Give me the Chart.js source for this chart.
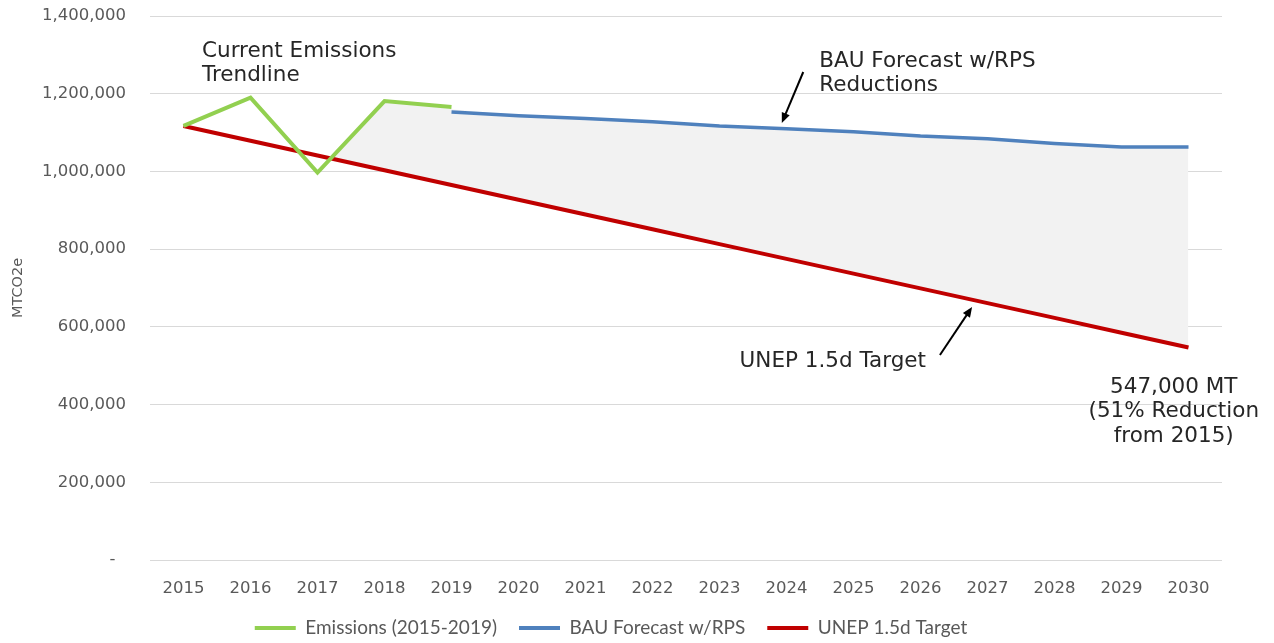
<!DOCTYPE html>
<html lang="en">
<head>
    <meta charset="UTF-8">
    <title>Emissions vs UNEP 1.5d Target</title>
    <script src="https://cdn.jsdelivr.net/npm/chart.js"></script>
    <style>
        body { margin: 0; background: #fff; }
        canvas { display: block; }
    </style>
</head>
<body>
    <canvas id="emissionsChart" width="1274" height="643"></canvas>
    <script>
        const years = ['2015', '2016', '2017', '2018', '2019', '2020', '2021', '2022',
                       '2023', '2024', '2025', '2026', '2027', '2028', '2029', '2030'];
        const emissions = [1117000, 1190000, 997000, 1181000, 1166000,
                           null, null, null, null, null, null, null, null, null, null, null];
        const bauForecast = [null, null, null, null, 1153000, 1143000, 1136000, 1128000,
                             1117000, 1110000, 1102000, 1091000, 1084000, 1072000, 1063000, 1063000];
        const unepTarget = [1117000, 1079000, 1041000, 1003000, 965000, 927000, 889000, 851000,
                            813000, 775000, 737000, 699000, 661000, 623000, 585000, 547000];
        // top edge of the grey gap area (emissions, then BAU)
        const gapTop = [null, null, 997000, 1181000, 1160000, 1143000, 1136000, 1128000,
                        1117000, 1110000, 1102000, 1091000, 1084000, 1072000, 1063000, 1063000];

        // callouts, placed in data units (x = year index, y = MTCO2e)
        const notes = [
            { text: ['Current Emissions', 'Trendline'], at: [0.276, 1294500], align: 'left' },
            { text: ['BAU Forecast w/RPS', 'Reductions'], at: [9.49, 1268800], align: 'left' },
            { text: ['UNEP 1.5d Target'], at: [8.30, 496700], align: 'left' },
            { text: ['547,000 MT', '(51% Reduction', 'from 2015)'], at: [14.78, 429800], align: 'center' }
        ];
        const arrows = [
            { from: [9.25, 1255900], to: [8.93, 1124600] },
            { from: [11.29, 527600], to: [11.77, 651100] }
        ];

        const notesPlugin = {
            id: 'notes',
            afterDatasetsDraw(chart) {
                const { ctx, scales: { x, y } } = chart;
                ctx.save();
                ctx.font = '21.5px "DejaVu Sans"';
                ctx.fillStyle = '#262626';
                ctx.textBaseline = 'alphabetic';
                notes.forEach(n => {
                    ctx.textAlign = n.align;
                    const px = x.getPixelForValue(n.at[0]);
                    const py = y.getPixelForValue(n.at[1]);
                    n.text.forEach((t, i) => ctx.fillText(t, px, py + i * 24.5));
                });

                ctx.strokeStyle = '#000';
                ctx.fillStyle = '#000';
                ctx.lineWidth = 2;
                arrows.forEach(a => {
                    const x1 = x.getPixelForValue(a.from[0]), y1 = y.getPixelForValue(a.from[1]);
                    const x2 = x.getPixelForValue(a.to[0]), y2 = y.getPixelForValue(a.to[1]);
                    const ang = Math.atan2(y2 - y1, x2 - x1);
                    const head = 11;
                    ctx.beginPath();
                    ctx.moveTo(x1, y1);
                    ctx.lineTo(x2 - head * 0.7 * Math.cos(ang), y2 - head * 0.7 * Math.sin(ang));
                    ctx.stroke();
                    ctx.beginPath();
                    ctx.moveTo(x2, y2);
                    ctx.lineTo(x2 - head * Math.cos(ang - 0.4), y2 - head * Math.sin(ang - 0.4));
                    ctx.lineTo(x2 - head * Math.cos(ang + 0.4), y2 - head * Math.sin(ang + 0.4));
                    ctx.closePath();
                    ctx.fill();
                });
                ctx.restore();
            }
        };

        Chart.defaults.font.family = '"DejaVu Sans", Verdana, sans-serif';
        Chart.defaults.color = '#595959';

        const ctx = document.getElementById('emissionsChart').getContext('2d');
        const emissionsChart = new Chart(ctx, {
            type: 'line',
            data: {
                labels: years,
                datasets: [
                    {
                        label: 'Emissions (2015-2019)',
                        data: emissions,
                        borderColor: '#92d050',
                        backgroundColor: '#92d050',
                        borderWidth: 4,
                        pointRadius: 0,
                        fill: false
                    },
                    {
                        label: 'BAU Forecast w/RPS',
                        data: bauForecast,
                        borderColor: '#4f81bd',
                        backgroundColor: '#4f81bd',
                        borderWidth: 3.5,
                        pointRadius: 0,
                        fill: false
                    },
                    {
                        label: 'UNEP 1.5d Target',
                        data: unepTarget,
                        borderColor: '#c00000',
                        backgroundColor: '#c00000',
                        borderWidth: 4,
                        pointRadius: 0,
                        fill: false
                    },
                    {
                        label: 'gap',
                        data: gapTop,
                        borderColor: 'rgba(0,0,0,0)',
                        borderWidth: 0,
                        pointRadius: 0,
                        order: 1,
                        fill: { target: 2, above: '#f2f2f2', below: 'rgba(0,0,0,0)' }
                    }
                ]
            },
            options: {
                responsive: false,
                animation: false,
                layout: { padding: { top: 0, right: 52, left: 0, bottom: -4.5 } },
                plugins: {
                    tooltip: { enabled: false },
                    legend: {
                        position: 'bottom',
                        labels: {
                            boxWidth: 41,
                            boxHeight: 4,
                            padding: 22,
                            color: '#595959',
                            font: { family: 'Lato', size: 19 },
                            generateLabels(chart) {
                                return Chart.defaults.plugins.legend.labels.generateLabels(chart)
                                    .filter(l => l.datasetIndex < 3)
                                    .map(l => Object.assign(l, { lineWidth: 0, fillStyle: l.strokeStyle }));
                            }
                        }
                    }
                },
                scales: {
                    x: {
                        offset: true,
                        grid: { display: false },
                        border: { display: false },
                        ticks: { padding: 11, font: { size: 16.5 }, color: '#595959', maxRotation: 0 },
                        afterFit(s) { s.height = 36.5; }
                    },
                    y: {
                        min: 0,
                        max: 1400000,
                        grid: { color: '#d9d9d9', lineWidth: 1, drawTicks: false },
                        border: { display: false },
                        ticks: {
                            stepSize: 200000,
                            padding: 24,
                            font: { size: 16.5 },
                            color: '#595959',
                            callback: v => v === 0 ? '-  ' : v.toLocaleString('en-US')
                        },
                        title: {
                            display: true,
                            text: 'MTCO2e',
                            color: '#595959',
                            font: { size: 14.5 },
                            padding: { top: 10, bottom: 4 }
                        },
                        afterFit(s) {
                            s.width = 150;
                            s.paddingTop = 16;
                            s.paddingBottom = 0;
                        }
                    }
                }
            },
            plugins: [notesPlugin]
        });
    </script>
</body>
</html>
